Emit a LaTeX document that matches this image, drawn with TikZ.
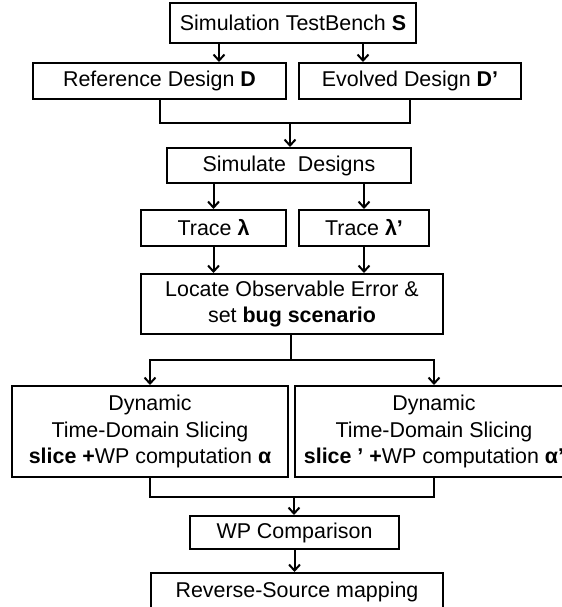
\documentclass[tikz,border=0pt]{standalone}
\usepackage{fontspec}
\setmainfont{Liberation Sans}
\usetikzlibrary{arrows.meta}
\begin{document}
\begin{tikzpicture}[x=1bp,y=-1bp,
  every node/.style={font=\fontsize{21.5}{26.5}\selectfont},
  box/.style={draw,line width=2bp,inner sep=0pt,align=center},
  link/.style={line width=2bp},
  arr/.style={link,-{Straight Barb[length=6bp,width=11bp,line width=2bp]}}]
\useasboundingbox (0,0) rectangle (562,607);
\clip (0,0) rectangle (562,607);

% boxes
\node[box,minimum width=246bp,minimum height=40bp] (S)   at (293,23)    {Simulation TestBench \textbf{S}};
\node[box,minimum width=253bp,minimum height=36bp] (D)   at (159.5,81)  {Reference Design \textbf{D}};
\node[box,minimum width=222bp,minimum height=36bp] (Dp)  at (410,81)    {Evolved Design \textbf{D’}};
\node[box,minimum width=244bp,minimum height=35bp] (sim) at (289,165.5) {Simulate\ \ Designs};
\node[box,minimum width=145bp,minimum height=36bp] (tl)  at (213.5,228) {Trace \textbf{λ}};
\node[box,minimum width=130bp,minimum height=36bp] (tlp) at (364,228)   {Trace \textbf{λ’}};
\node[box,minimum width=302bp,minimum height=60bp] (loc) at (292,304)   {Locate Observable Error \&\\set \textbf{bug scenario}};
\node[box,minimum width=276bp,minimum height=91bp] (sl)  at (150,431.5) {Dynamic\\Time-Domain Slicing\\\textbf{slice +}WP computation \textbf{α}};
\node[box,minimum width=278bp,minimum height=91bp] (slp) at (434,431.5) {Dynamic\\Time-Domain Slicing\\\textbf{slice ’ +}WP computation \textbf{α’}};
\node[box,minimum width=209bp,minimum height=33bp] (wp)  at (294.5,532.5) {WP Comparison};
\node[box,minimum width=292bp,minimum height=38bp] (rs)  at (297,592)   {Reverse-Source mapping};

% junction points
\coordinate (m1) at (290,123);
\coordinate (sp) at (291,360);
\coordinate (m2) at (294,497);

% connectors
\draw[arr] ([xshift=-74bp]S.south) -- ([xshift=-74bp]S.south |- D.north);
\draw[arr] ([xshift=70bp]S.south) -- ([xshift=70bp]S.south |- Dp.north);
\draw[link] (D.south) |- (m1) -| (Dp.south);
\draw[arr] (m1) -- (m1 |- sim.north);
\draw[arr] (tl.north |- sim.south) -- (tl.north);
\draw[arr] (tlp.north |- sim.south) -- (tlp.north);
\draw[arr] (tl.south) -- (tl.south |- loc.north);
\draw[arr] (tlp.south) -- (tlp.south |- loc.north);
\draw[link] (loc.south -| sp) -- (sp);
\draw[arr] (sp) -| (sl.north);
\draw[arr] (sp) -| (slp.north);
\draw[link] (sl.south) |- (m2) -| (slp.south);
\draw[arr] (m2) -- (m2 |- wp.north);
\draw[arr] (wp.south) -- (wp.south |- rs.north);
\end{tikzpicture}
\end{document}
